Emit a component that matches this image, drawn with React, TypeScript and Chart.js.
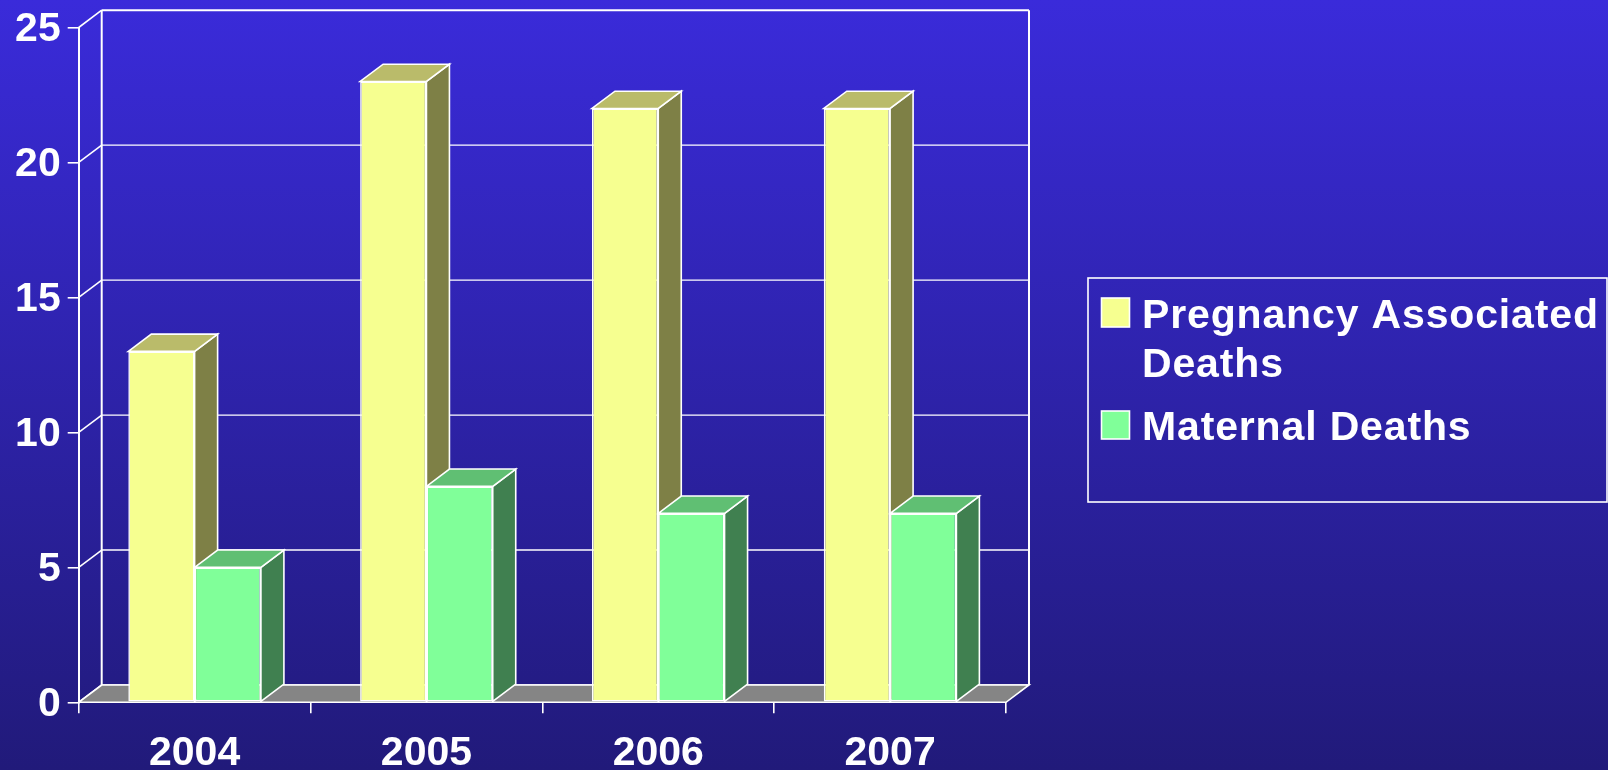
import React, { useEffect, useRef } from "react";
import { Chart, registerables } from "chart.js";

Chart.register(...registerables);

const categories = ["2004", "2005", "2006", "2007"];
const pregnancyLabel = "Pregnancy Associated Deaths";
const maternalLabel = "Maternal Deaths";
const pregnancyDeaths = [13, 23, 22, 22];
const maternalDeaths = [5, 8, 7, 7];
const yTicks = [0, 5, 10, 15, 20, 25];

const FONT = '"Liberation Sans", Arial, sans-serif';
const DX = 23;
const DY = 17.3;

const faces = [
  { front: "#F6FF90", side: "#7E8046", top: "#BABB6A" },
  { front: "#80FF99", side: "#408050", top: "#60BF73" },
];

function poly(ctx: CanvasRenderingContext2D, pts: number[][], fill: string | null, stroke = "#fff", lw = 1.6) {
  ctx.beginPath();
  pts.forEach(([x, y], i) => (i ? ctx.lineTo(x, y) : ctx.moveTo(x, y)));
  ctx.closePath();
  if (fill) {
    ctx.fillStyle = fill;
    ctx.fill();
  }
  ctx.strokeStyle = stroke;
  ctx.lineWidth = lw;
  ctx.stroke();
}

function line(ctx: CanvasRenderingContext2D, x1: number, y1: number, x2: number, y2: number, lw = 1.6) {
  ctx.beginPath();
  ctx.moveTo(x1, y1);
  ctx.lineTo(x2, y2);
  ctx.strokeStyle = "#fff";
  ctx.lineWidth = lw;
  ctx.stroke();
}

const backdrop = {
  id: "backdrop",
  beforeDraw(chart: any) {
    const { ctx, width, height } = chart;
    const g = ctx.createLinearGradient(0, 0, 0, height);
    g.addColorStop(0, "#3A2BDA");
    g.addColorStop(1, "#211A7A");
    ctx.save();
    ctx.fillStyle = g;
    ctx.fillRect(0, 0, width, height);
    ctx.restore();
  },
};

const wall3d = {
  id: "wall3d",
  beforeDatasetsDraw(chart: any) {
    const { ctx, chartArea: a, scales } = chart;
    const yS = scales.y;
    const left = a.left;
    const right = a.right;
    ctx.save();
    const y0 = yS.getPixelForValue(0);
    const yTop = yS.getPixelForValue(25);
    line(ctx, left + DX, yTop - DY, left + DX, y0 - DY, 2);
    line(ctx, right + DX, yTop - DY, right + DX, y0 - DY, 2);
    yTicks.forEach((v) => {
      const y = yS.getPixelForValue(v);
      line(ctx, left, y, left + DX, y - DY, 1.6);
      line(ctx, left + DX, y - DY, right + DX, y - DY, v === 25 ? 2 : 1.4);
    });
    poly(ctx, [[left, y0], [right, y0], [right + DX, y0 - DY], [left + DX, y0 - DY]], "#858585");
    [0, 1].forEach((ds) => {
      chart.getDatasetMeta(ds).data.forEach((bar: any) => {
        const l = bar.x - bar.width / 2;
        const r = bar.x + bar.width / 2;
        const t = bar.y;
        const b = bar.base;
        poly(ctx, [[r, t], [r + DX, t - DY], [r + DX, b - DY], [r, b]], faces[ds].side);
        poly(ctx, [[l, t], [r, t], [r + DX, t - DY], [l + DX, t - DY]], faces[ds].top);
      });
    });
    ctx.restore();
  },
};

const sideLegend = {
  id: "sideLegend",
  afterDraw(chart: any) {
    const { ctx } = chart;
    ctx.save();
    ctx.strokeStyle = "#fff";
    ctx.lineWidth = 1.6;
    ctx.strokeRect(1088, 278, 519, 224);
    ctx.font = `bold 41px ${FONT}`;
    ctx.fillStyle = "#fff";
    ctx.textBaseline = "alphabetic";
    ctx.textAlign = "left";
    (ctx as any).letterSpacing = "0.85px";
    const first = chart.data.datasets[0].label as string;
    const words = first.split(" ");
    ctx.fillText(words.slice(0, 2).join(" "), 1142, 328);
    ctx.fillText(words.slice(2).join(" "), 1142, 377);
    ctx.fillText(chart.data.datasets[1].label as string, 1142, 440);
    ctx.fillStyle = faces[0].front;
    ctx.fillRect(1101.5, 298, 28, 29);
    ctx.strokeRect(1101.5, 298, 28, 29);
    ctx.fillStyle = faces[1].front;
    ctx.fillRect(1101.5, 411, 28, 28);
    ctx.strokeRect(1101.5, 411, 28, 28);
    ctx.restore();
  },
};

export default function App() {
  const ref = useRef<HTMLCanvasElement>(null);
  useEffect(() => {
    document.body.style.margin = "0";
    document.body.style.overflow = "hidden";
    const chart = new Chart(ref.current!, {
      type: "bar",
      data: {
        labels: categories,
        datasets: [
          {
            label: pregnancyLabel,
            data: pregnancyDeaths,
            backgroundColor: faces[0].front,
            borderColor: "#fff",
            borderWidth: 1.6,
            borderSkipped: false,
          },
          {
            label: maternalLabel,
            data: maternalDeaths,
            backgroundColor: faces[1].front,
            borderColor: "#fff",
            borderWidth: 1.6,
            borderSkipped: false,
          },
        ],
      },
      options: {
        responsive: false,
        animation: false,
        devicePixelRatio: 1,
        datasets: { bar: { categoryPercentage: 0.572, barPercentage: 1 } },
        layout: { padding: { left: 0, top: 27.5, right: 602, bottom: 0 } },
        plugins: { legend: { display: false }, tooltip: { enabled: false } },
        scales: {
          x: {
            afterFit: (s: any) => {
              s.height = 67.7;
              s.paddingLeft = 0;
              s.paddingRight = 0;
            },
            grid: { drawOnChartArea: false, drawTicks: true, tickLength: 11, color: "#fff", lineWidth: 1.6 },
            border: { color: "#fff", width: 2 },
            ticks: { color: "#fff", padding: 16, maxRotation: 0, font: { family: FONT, weight: "bold", size: 41 } },
          },
          y: {
            min: 0,
            max: 25,
            afterFit: (s: any) => {
              s.width = 78.7;
              s.paddingTop = 0;
              s.paddingBottom = 0;
            },
            afterBuildTicks: (s: any) => {
              s.ticks = yTicks.map((value) => ({ value }));
            },
            afterUpdate: (s: any) => {
              const base = Object.getPrototypeOf(s).drawLabels;
              s.drawLabels = function (area: any) {
                this.ctx.save();
                this.ctx.translate(0, 2.5);
                base.call(this, area);
                this.ctx.restore();
              };
            },
            grid: { drawOnChartArea: false, drawTicks: true, tickLength: 11, color: "#fff", lineWidth: 1.6 },
            border: { color: "#fff", width: 2 },
            ticks: { color: "#fff", padding: 7, font: { family: FONT, weight: "bold", size: 41 } },
          },
        },
      } as any,
      plugins: [backdrop, wall3d, sideLegend],
    });
    return () => chart.destroy();
  }, []);
  return <canvas ref={ref} width={1608} height={770} style={{ display: "block", width: 1608, height: 770 }} />;
}
